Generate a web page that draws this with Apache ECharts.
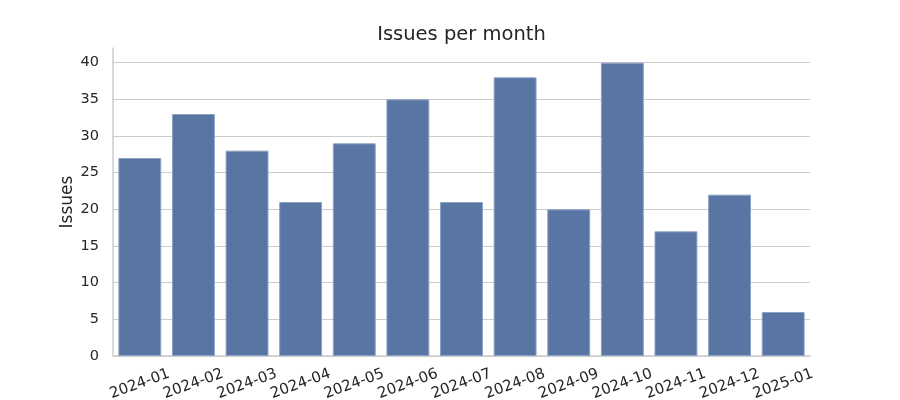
<!DOCTYPE html>
<html><head><meta charset="utf-8">
<script src="https://cdn.jsdelivr.net/npm/echarts@6/dist/echarts.min.js"></script>
<style>html,body{margin:0;padding:0;background:#fff}#c{width:900px;height:400px}</style>
</head><body><div id="c"></div>
<script>
const categories = ['2024-01','2024-02','2024-03','2024-04','2024-05','2024-06','2024-07','2024-08','2024-09','2024-10','2024-11','2024-12','2025-01'];
const issues = [27, 33, 28, 21, 29, 35, 21, 38, 20, 40, 17, 22, 6];
const chart = echarts.init(document.getElementById('c'), null, {renderer:'canvas'});
const font = 'DejaVu Sans';
chart.setOption({
  animation: false,
  title: {text: 'Issues per month', left: 456.5, textAlign: 'center', top: 20, textStyle: {fontFamily: font, fontSize: 19.5, fontWeight: 'normal', color: '#262626'}},
  grid: {left: 113, right: 90, top: 48, bottom: 44, containLabel: false, outerBoundsMode: 'none'},
  xAxis: {
    type: 'category', data: categories,
    axisLine: {show: true, lineStyle: {color: '#cccccc', width: 1.5}},
    axisTick: {show: false},
    axisLabel: {interval: 0, rotate: 20, align: 'center', verticalAlign: 'middle', margin: 28, fontFamily: font, fontSize: 15, color: '#262626'}
  },
  yAxis: {
    type: 'value', min: 0, max: 42, interval: 5,
    name: 'Issues', nameLocation: 'middle', nameGap: 37, nameRotate: 90, nameMoveOverlap: false,
    nameTextStyle: {fontFamily: font, fontSize: 17, color: '#262626'},
    axisLine: {show: true, lineStyle: {color: '#cccccc', width: 1.5}},
    axisTick: {show: false},
    axisLabel: {showMaxLabel: false, margin: 14, fontFamily: font, fontSize: 14.5, color: '#262626',
      formatter: v => (v % 5 === 0 ? String(v) : '')},
    splitLine: {show: true, showMaxLine: false, lineStyle: {color: '#cccccc', width: 1.2}}
  },
  series: [{
    type: 'bar', data: issues, barCategoryGap: '20%',
    itemStyle: {color: '#5875a4', borderColor: '#8ea2c4', borderWidth: 1}
  }]
});
</script></body></html>
